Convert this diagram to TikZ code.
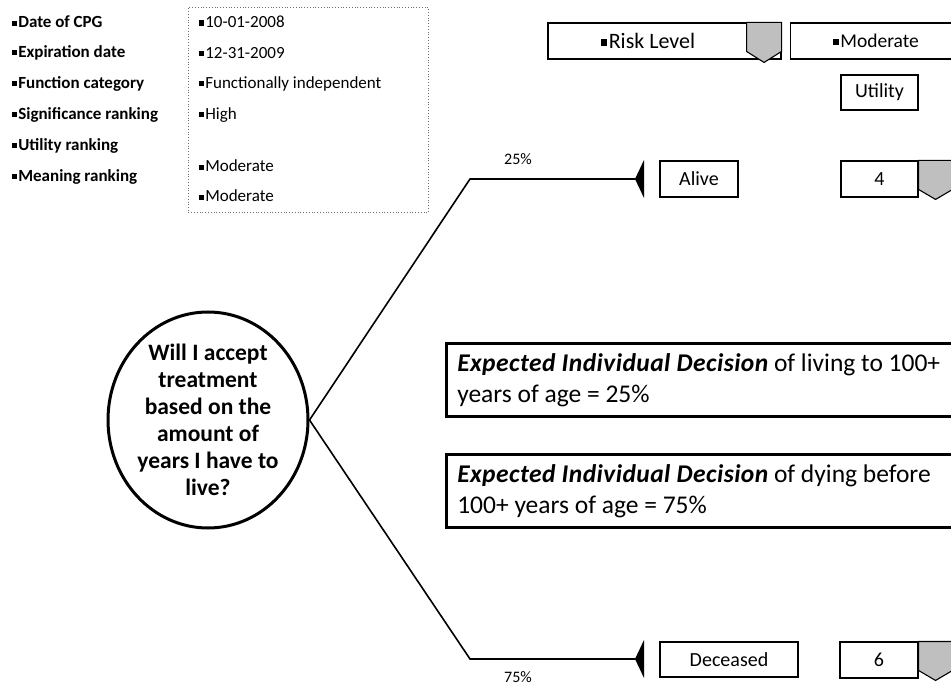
\documentclass[tikz,border=0pt]{standalone}
\usepackage{fontspec}
\setmainfont{Carlito}
\usetikzlibrary{arrows.meta,positioning,shapes.geometric}
\definecolor{TipGray}{RGB}{191,191,191}
\definecolor{FrameGray}{RGB}{110,110,110}
\newcommand{\bul}{\raisebox{0.13em}{\rule{0.3em}{0.3em}}\hspace{0.06em}}
\newcommand{\expd}{{\bfseries\itshape\addfontfeature{LetterSpace=1.7}Expected Individual Decision}}

\begin{document}
\begin{tikzpicture}[x=1pt,y=-1pt,
    lbl/.style={anchor=west,inner sep=0pt,font=\fontsize{17}{20}\selectfont\bfseries},
    val/.style={anchor=west,inner sep=0pt,font=\fontsize{17}{20}\selectfont},
    cell/.style={draw,line width=1.1pt,inner sep=0pt,font=\fontsize{20}{24}\selectfont},
    pct/.style={inner sep=0pt,font=\fontsize{16}{19}\selectfont},
    branch/.style={line width=1.6pt},
    tip/.style={draw,fill=TipGray,line width=1.1pt},
    expbox/.style={draw,line width=2.5pt,anchor=north west,text width=530pt,
      inner xsep=11pt,minimum height=73pt,align=flush left,font=\fontsize{25.5}{31}\selectfont}]
  \useasboundingbox (0,0) rectangle (951,687);
  \clip (0,0) rectangle (951,687);

  % guideline data
  \foreach \t [count=\i] in {Date of CPG,Expiration date,Function category,
      Significance ranking,Utility ranking,Meaning ranking}
    \node[lbl] (lab\i) at (12,{22+31*(\i-1)}) {\bul\t};
  \node[draw=FrameGray,dotted,line width=0.8pt,inner sep=0pt,anchor=north west,
    minimum width=240pt,minimum height=205pt] (frame) at (188,7) {};
  \foreach \t/\y [count=\i] in {10-01-2008/22,12-31-2009/53,
      Functionally independent/84,High/115,Moderate/166,Moderate/196}
    \node[val] (val\i) at (199,\y) {\bul\t};

  % risk level and utility header
  \node[cell,font=\fontsize{22}{26}\selectfont,minimum width=233pt,minimum height=36pt]
    (risk) at (664.5,41) {\bul Risk Level\hspace*{33pt}};
  \filldraw[tip] (risk.north east) -- ++(0,29) -- ++(-17.5,11) -- ++(-17.5,-11)
    -- ++(0,-29) -- cycle;
  \node[cell,font=\fontsize{19.5}{23}\selectfont,minimum width=172pt,minimum height=36pt,
    right=8pt of risk] (level) {\bul Moderate};
  \node[cell,minimum width=77pt,minimum height=35pt] (util) at (879.5,92.5) {Utility};

  % decision node
  \node[ellipse,draw,line width=3pt,minimum width=200pt,minimum height=216pt,inner sep=0pt,
    align=center,font=\fontsize{23.5}{27}\selectfont\bfseries] (q) at (208,420)
    {Will I accept\\treatment\\based on the\\amount of\\years I have to\\live?};

  % branches
  \coordinate (kup) at (470,179);
  \coordinate (tup) at (635,179);
  \coordinate (kdn) at (470,659);
  \coordinate (tdn) at (635,659);
  \draw[branch] (q.east) -- (kup) -- (tup);
  \draw[branch] (q.east) -- (kdn) -- (tdn);
  \fill (tup) -- ++(9,-19) -- ++(0,38) -- cycle;
  \fill (tdn) -- ++(9,-19) -- ++(0,38) -- cycle;
  \node[pct] (pup) at (518,159) {25\%};
  \node[pct] (pdn) at (518,677) {75\%};

  % outcomes
  \node[cell,minimum width=78pt,minimum height=36pt] (alive) at (699,179) {Alive};
  \node[cell,minimum width=77pt,minimum height=36pt] (ualive) at (879.5,179) {4};
  \filldraw[tip] (ualive.north east) -- ++(34,0) -- ++(0,29) -- ++(-17,10)
    -- ++(-17,-10) -- cycle;
  \node[cell,minimum width=138pt,minimum height=35pt] (dead) at (729,659.5) {Deceased};
  \node[cell,minimum width=78pt,minimum height=36pt] (udead) at (879,660) {6};
  \filldraw[tip] (udead.north east) -- ++(34,0) -- ++(0,29) -- ++(-17,10)
    -- ++(-17,-10) -- cycle;

  % expected decisions
  \node[expbox] (exp1) at (445,342) {\expd{} of living to 100+\\years of age = 25\%};
  \node[expbox] (exp2) at (445,453) {\expd{} of dying before\\100+ years of age = 75\%};
\end{tikzpicture}
\end{document}
